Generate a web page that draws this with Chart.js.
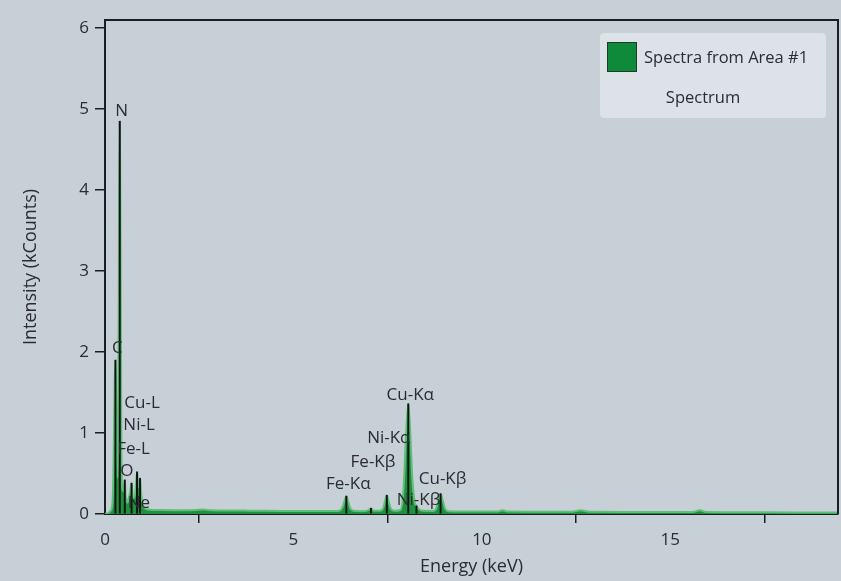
<!DOCTYPE html>
<html>
<head>
<meta charset="utf-8">
<script src="https://cdn.jsdelivr.net/npm/chart.js@4/dist/chart.umd.min.js"></script>
<style>
  html, body { margin: 0; padding: 0; background: #c7cfd7; }
  #wrap { width: 841px; height: 581px; }
</style>
</head>
<body>
<div id="wrap"><canvas id="c" width="841" height="581"></canvas></div>
<script>
// EDS spectrum, energy in keV and intensity in kCounts
const energy = [
  0, 0.08, 0.15, 0.20, 0.23, 0.255, 0.277, 0.30, 0.33, 0.355, 0.375, 0.392, 0.41, 0.43, 0.46,
  0.50, 0.525, 0.55, 0.60, 0.63, 0.67, 0.705, 0.74, 0.78, 0.82, 0.851, 0.88, 0.91, 0.93, 0.96,
  1.00, 1.06, 1.15, 1.3, 1.5, 1.8, 2.1, 2.4, 2.6, 2.8, 3.2, 3.7, 4.2, 4.8, 5.4, 5.9,
  6.22, 6.30, 6.36, 6.404, 6.45, 6.51, 6.60, 6.8, 6.98, 7.058, 7.14, 7.30, 7.38, 7.43, 7.478,
  7.53, 7.59, 7.68, 7.84, 7.92, 7.99, 8.048, 8.10, 8.16, 8.22, 8.265, 8.33, 8.45, 8.70, 8.78,
  8.85, 8.905, 8.96, 9.03, 9.12, 9.5, 10.0, 10.4, 10.55, 10.7, 11.5, 12.4, 12.62, 12.85, 13.8,
  14.8, 15.6, 15.78, 15.95, 17.0, 18.2, 19.45
];
const counts = [
  0, 0.01, 0.04, 0.15, 0.7, 1.6, 1.9, 1.3, 0.45, 1.4, 3.9, 4.85, 3.6, 1.2, 0.3,
  0.28, 0.42, 0.22, 0.14, 0.2, 0.28, 0.38, 0.2, 0.2, 0.35, 0.52, 0.33, 0.38, 0.44, 0.26,
  0.12, 0.07, 0.055, 0.05, 0.048, 0.046, 0.045, 0.048, 0.056, 0.046, 0.044, 0.042, 0.04, 0.038, 0.036, 0.036,
  0.04, 0.08, 0.17, 0.22, 0.16, 0.07, 0.04, 0.035, 0.045, 0.07, 0.04, 0.04, 0.07, 0.16, 0.23,
  0.15, 0.06, 0.04, 0.05, 0.3, 1.0, 1.36, 1.0, 0.4, 0.14, 0.1, 0.06, 0.04, 0.038, 0.06,
  0.17, 0.25, 0.17, 0.06, 0.035, 0.032, 0.03, 0.03, 0.045, 0.03, 0.028, 0.027, 0.045, 0.027, 0.026,
  0.025, 0.025, 0.045, 0.025, 0.022, 0.02, 0.02
];

// Identified X-ray lines
const lineNames  = ['C', 'N', 'O', 'Fe-L', 'Ne', 'Ni-L', 'Cu-L', 'Fe-Kα', 'Fe-Kβ', 'Ni-Kα', 'Cu-Kα', 'Ni-Kβ', 'Cu-Kβ'];
const lineEnergy = [0.277, 0.392, 0.525, 0.705, 0.849, 0.851, 0.930, 6.404, 7.058, 7.478, 8.048, 8.265, 8.905];
const lineHeight = [1.9, 4.85, 0.42, 0.38, 0.5, 0.52, 0.44, 0.22, 0.07, 0.23, 1.36, 0.1, 0.25];
const labelLevel = [2.05, 4.98, 0.53, 0.80, 0.14, 1.10, 1.37, 0.37, 0.64, 0.94, 1.47, 0.17, 0.43];

const xTicks = [0, 5, 10, 15];
const yTicks = [0, 1, 2, 3, 4, 5, 6];

const seriesName = 'Spectra from Area #1';
const seriesSub = 'Spectrum';

const FONT = '"Open Sans", "Noto Sans", sans-serif';
const TEXT = '#2a2d30';
const AXIS = '#1a1e22';

const spectrum = energy.map((e, i) => ({ x: e, y: counts[i] }));
const markers = lineEnergy.map((e, i) => ({ x: e, y: lineHeight[i] }));

const backdrop = {
  id: 'backdrop',
  beforeDraw(chart) {
    const ctx = chart.ctx;
    ctx.save();
    ctx.fillStyle = '#c7cfd7';
    ctx.fillRect(0, 0, chart.width, chart.height);
    ctx.restore();
  }
};

const frame = {
  id: 'frame',
  afterDraw(chart) {
    const { ctx, chartArea: a } = chart;
    ctx.save();
    ctx.strokeStyle = AXIS;
    ctx.lineWidth = 2;
    ctx.beginPath();
    ctx.moveTo(a.left, a.top);
    ctx.lineTo(a.right, a.top);
    ctx.lineTo(a.right, a.bottom);
    ctx.stroke();
    ctx.restore();
  }
};

const lineLabels = {
  id: 'lineLabels',
  afterDatasetsDraw(chart) {
    const { ctx } = chart;
    const xs = chart.scales.x, ys = chart.scales.y;
    ctx.save();
    ctx.font = '17px ' + FONT;
    ctx.fillStyle = TEXT;
    ctx.textAlign = 'center';
    ctx.textBaseline = 'middle';
    lineNames.forEach((n, i) => {
      ctx.fillText(n, xs.getPixelForValue(lineEnergy[i]) + 2, ys.getPixelForValue(labelLevel[i]));
    });
    ctx.restore();
  }
};

const legendBox = {
  id: 'legendBox',
  afterDraw(chart) {
    const ctx = chart.ctx;
    const bx = 600, by = 33, bw = 226, bh = 85;
    ctx.save();
    ctx.fillStyle = '#dde2e8';
    ctx.beginPath();
    ctx.roundRect(bx, by, bw, bh, 4);
    ctx.fill();
    ctx.fillStyle = '#0f8a3a';
    ctx.strokeStyle = '#1b3d25';
    ctx.lineWidth = 1;
    ctx.fillRect(607, 42, 30, 30);
    ctx.strokeRect(607.5, 42.5, 29, 29);
    ctx.fillStyle = TEXT;
    ctx.font = '16.5px ' + FONT;
    ctx.textBaseline = 'middle';
    ctx.textAlign = 'left';
    ctx.fillText(seriesName, 644, 58);
    ctx.textAlign = 'center';
    ctx.fillText(seriesSub, 703, 98);
    ctx.restore();
  }
};

new Chart(document.getElementById('c'), {
  type: 'line',
  data: {
    datasets: [
      {
        type: 'bar',
        label: 'lines',
        data: markers,
        backgroundColor: '#101414',
        barThickness: 1.3,
        order: 0
      },
      {
        type: 'line',
        label: seriesName,
        data: spectrum,
        fill: 'origin',
        backgroundColor: '#21903e',
        borderColor: '#5fbf78',
        borderWidth: 2,
        pointRadius: 0,
        cubicInterpolationMode: 'monotone',
        order: 1
      }
    ]
  },
  options: {
    responsive: false,
    animation: false,
    layout: { padding: { top: 20, right: 3, left: 0, bottom: 0 } },
    plugins: { legend: { display: false }, tooltip: { enabled: false } },
    scales: {
      x: {
        type: 'linear',
        min: 0,
        max: 19.45,
        offset: false,
        afterBuildTicks(s) { s.ticks = xTicks.map(v => ({ value: v })); },
        afterFit(s) { s.height = 67; },
        grid: { drawOnChartArea: false, drawTicks: true, tickLength: 9, color: AXIS, lineWidth: 1.5 },
        border: { display: true, color: AXIS, width: 2 },
        ticks: { color: TEXT, font: { family: FONT, size: 17 }, padding: 7, maxRotation: 0 },
        title: { display: true, text: 'Energy (keV)', color: TEXT, font: { family: FONT, size: 18 }, padding: { bottom: 3, top: 0 } }
      },
      y: {
        type: 'linear',
        min: 0,
        max: 6.1,
        afterBuildTicks(s) { s.ticks = yTicks.map(v => ({ value: v })); },
        afterFit(s) { s.width = 105; },
        grid: { drawOnChartArea: false, drawTicks: true, tickLength: 10, color: AXIS, lineWidth: 1.5 },
        border: { display: true, color: AXIS, width: 2 },
        ticks: { color: TEXT, font: { family: FONT, size: 17 }, padding: 6 },
        title: { display: true, text: 'Intensity (kCounts)', color: TEXT, font: { family: FONT, size: 18 }, padding: { top: 20, bottom: 0 } }
      }
    }
  },
  plugins: [backdrop, frame, lineLabels, legendBox]
});
</script>
</body>
</html>
